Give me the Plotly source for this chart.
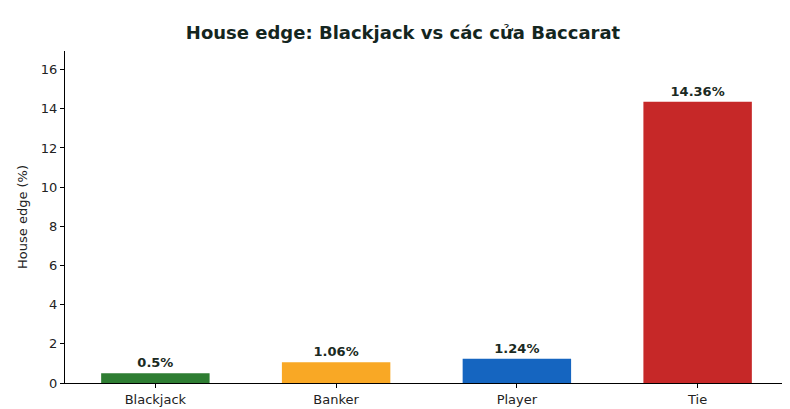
import plotly.graph_objects as go

categories = ["Blackjack", "Banker", "Player", "Tie"]
house_edge = [0.5, 1.06, 1.24, 14.36]
labels = ["0.5%", "1.06%", "1.24%", "14.36%"]
colors = ["#2e7d32", "#f9a825", "#1565c0", "#c62828"]
y_ticks = [0, 2, 4, 6, 8, 10, 12, 14, 16]

fig = go.Figure(go.Bar(
    x=categories,
    y=house_edge,
    width=0.6,
    marker=dict(color=colors, line=dict(width=0)),
    text=labels,
    textposition="outside",
    textfont=dict(family="DejaVu Sans", size=13, color="#1a2a22"),
    texttemplate="<b>%{text}</b>",
    cliponaxis=False,
))

fig.update_layout(
    width=790, height=409,
    plot_bgcolor="white", paper_bgcolor="white",
    margin=dict(l=57, r=10, t=43, b=34, autoexpand=False),
    font=dict(family="DejaVu Sans", size=13, color="#222"),
    title=dict(text="<b>House edge: Blackjack vs các cửa Baccarat</b>",
               x=0.5, xanchor="center", y=0.955,
               font=dict(size=18, color="#14261f")),
    showlegend=False,
)
fig.update_xaxes(showline=True, linecolor="black", ticks="outside",
                 ticklen=4, tickcolor="black", range=[-0.5, 3.5],
                 automargin=False)
fig.update_yaxes(range=[0, 16.95], tickvals=y_ticks, showline=True,
                 linecolor="black", ticks="outside", ticklen=4,
                 tickcolor="black", showgrid=False, zeroline=False,
                 automargin=False,
                 title=dict(text="House edge (%)", standoff=10,
                            font=dict(size=13)))

fig.write_html("out.html")
